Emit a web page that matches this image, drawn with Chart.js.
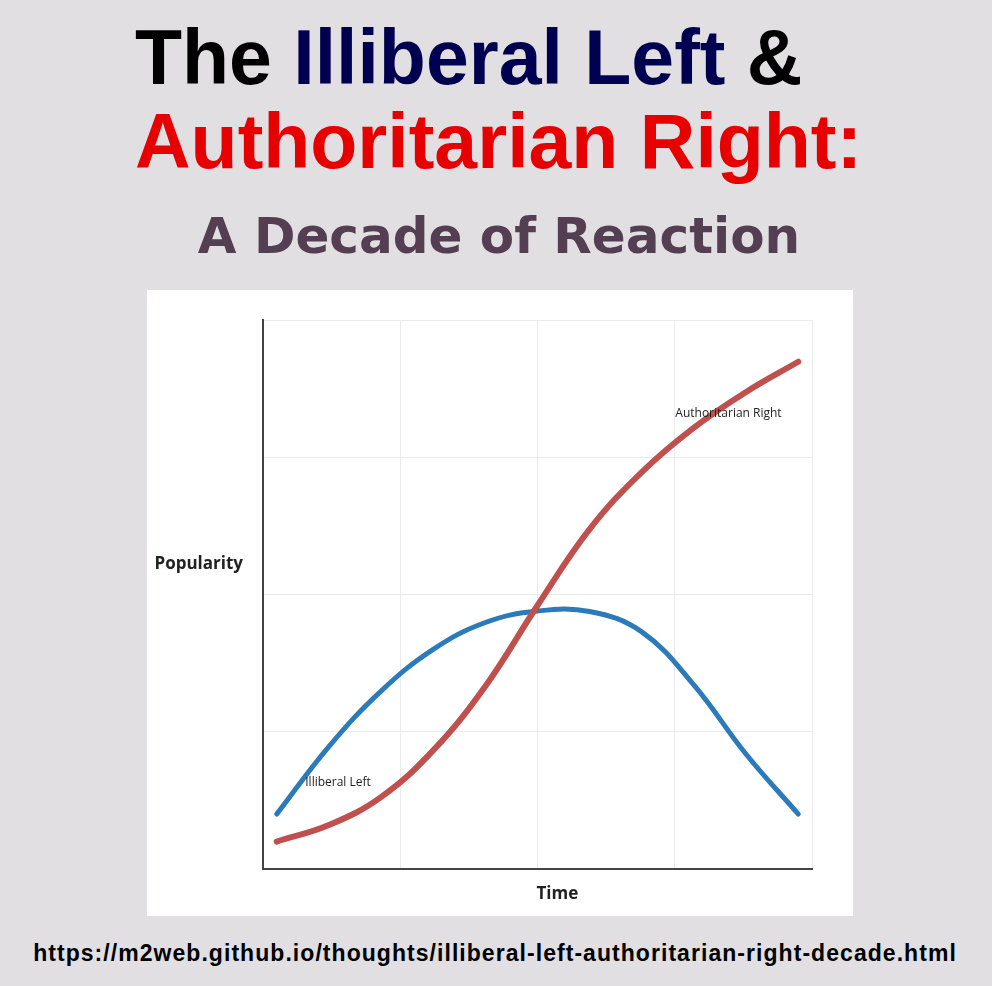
<!DOCTYPE html>
<html>
<head>
<meta charset="utf-8">
<script src="https://cdn.jsdelivr.net/npm/chart.js@4.4.1/dist/chart.umd.min.js"></script>
<style>
  html, body { margin: 0; padding: 0; }
  body { width: 992px; height: 986px; background: #e1dfe2; position: relative; overflow: hidden; }
  .t { position: absolute; white-space: nowrap; margin: 0; }
  #l1 { left: 135px; top: 19px; font: bold 77px/77px "Liberation Sans", Arial, sans-serif; color: #000; }
  #l1 .n { color: #000050; }
  #l2 { left: 135px; top: 103px; font: bold 77px/77px "Liberation Sans", Arial, sans-serif; color: #e60000; }
  #l3 { left: 0; width: 998px; text-align: center; top: 211px; font: bold 50px/50px "DejaVu Sans", Verdana, sans-serif; color: #543e52; }
  #url { left: 0; width: 990px; text-align: center; top: 942px; font: bold 23px/23px "Liberation Sans", Arial, sans-serif; letter-spacing: 1.05px; color: #000; }
  #panel { position: absolute; left: 147px; top: 290px; width: 706px; height: 626px; background: #fff; }
</style>
</head>
<body>
<div class="t" id="l1">The <span class="n">Illiberal Left</span> &amp;</div>
<div class="t" id="l2">Authoritarian Right:</div>
<div class="t" id="l3">A Decade of Reaction</div>
<div id="panel"><canvas id="c"></canvas></div>
<div class="t" id="url">https://m2web.github.io/thoughts/illiberal-left-authoritarian-right-decade.html</div>
<script>
// ---- data ----
const timePoints = [0.25, 1.2, 2.15, 3.1, 4.05, 5.0, 5.95, 6.9, 7.85, 8.8, 9.75];
const illiberalLeft = [10.0, 22.3, 32.4, 40.0, 44.9, 47.0, 46.9, 43.2, 33.5, 20.9, 10.0];
const authoritarianRight = [5.0, 8.0, 13.1, 21.6, 33.3, 48.0, 61.9, 72.3, 80.4, 86.9, 92.4];
const seriesNames = ["Illiberal Left", "Authoritarian Right"];
const xTitle = "Time";
const yTitle = "Popularity";
// label anchors in data coordinates (time, popularity)
const leftLabelAt  = [0.77, 15.7];
const rightLabelAt = [7.51, 83.0];

const toPts = (vals) => timePoints.map((t, i) => ({ x: t, y: vals[i] }));

const textPlugin = {
  id: 'texts',
  afterDraw(chart) {
    const ctx = chart.ctx, a = chart.chartArea;
    const xs = chart.scales.x, ys = chart.scales.y;
    ctx.save();
    ctx.fillStyle = '#222';
    ctx.font = 'bold 17px "Open Sans", sans-serif';
    ctx.textBaseline = 'middle';
    ctx.textAlign = 'right';
    ctx.fillText(yTitle, a.left - 20, a.top + 244);
    ctx.textAlign = 'left';
    ctx.fillText(xTitle, (a.left + a.right) / 2 - 1, a.bottom + 25);
    ctx.font = '12px "Open Sans", sans-serif';
    ctx.fillStyle = '#222';
    ctx.fillText(seriesNames[0], xs.getPixelForValue(leftLabelAt[0]), ys.getPixelForValue(leftLabelAt[1]));
    ctx.fillText(seriesNames[1], xs.getPixelForValue(rightLabelAt[0]), ys.getPixelForValue(rightLabelAt[1]));
    ctx.restore();
  }
};

new Chart(document.getElementById('c'), {
  type: 'line',
  data: {
    datasets: [
      { label: seriesNames[0], data: toPts(illiberalLeft), borderColor: '#2b7bba', borderWidth: 5, order: 1 },
      { label: seriesNames[1], data: toPts(authoritarianRight), borderColor: '#c0504d', borderWidth: 6, order: 0 }
    ]
  },
  options: {
    responsive: true,
    maintainAspectRatio: false,
    animation: false,
    layout: { padding: { left: 116, right: 41, top: 30, bottom: 47 } },
    elements: {
      point: { radius: 0, hoverRadius: 0 },
      line: { tension: 0.4, borderCapStyle: 'round', borderJoinStyle: 'round', fill: false }
    },
    plugins: { legend: { display: false }, tooltip: { enabled: false } },
    scales: {
      x: {
        type: 'linear', min: 0, max: 10,
        ticks: { display: false, stepSize: 2.5 },
        grid: { color: '#ebebeb', lineWidth: 1, drawTicks: false },
        border: { color: '#444', width: 2 }
      },
      y: {
        type: 'linear', min: 0, max: 100,
        ticks: { display: false, stepSize: 25 },
        grid: { color: '#ebebeb', lineWidth: 1, drawTicks: false },
        border: { color: '#444', width: 2 }
      }
    }
  },
  plugins: [textPlugin]
});
</script>
</body>
</html>
